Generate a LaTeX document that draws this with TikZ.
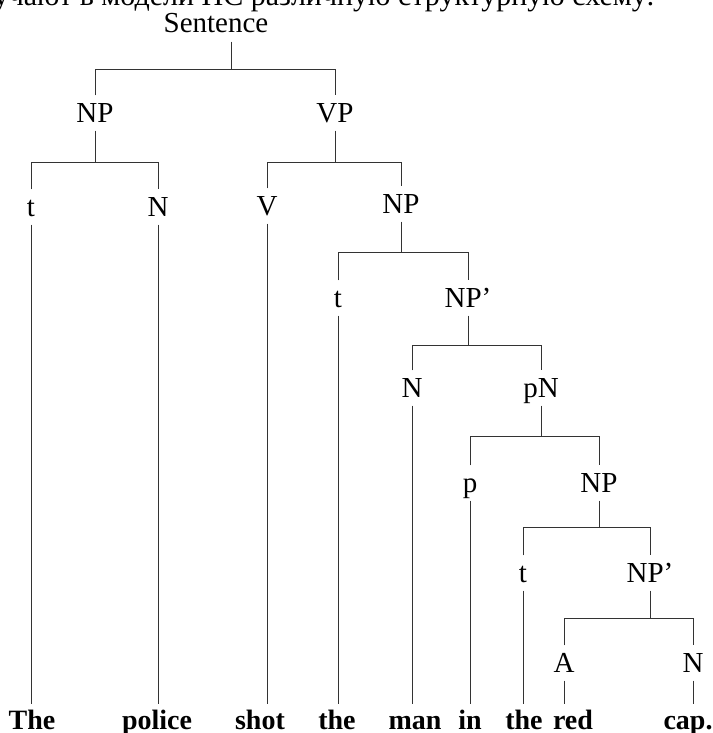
\documentclass[tikz,border=0pt]{standalone}
\usepackage{fontspec}
\setmainfont{Liberation Serif}
\tikzset{
  cat/.style={font=\fontsize{29}{29}\selectfont, text height=19pt, text depth=0pt,
    inner xsep=2pt, inner ysep=8pt},
  word/.style={font=\fontsize{28}{28}\selectfont\bfseries, anchor=base,
    inner sep=0pt, text height=25pt, text depth=0pt},
  branch/.style={draw=black!80, line width=0.9pt},
}

\begin{document}
\begin{tikzpicture}[x=1pt,y=-1pt]
  \useasboundingbox (0,0) rectangle (712,733);
  \clip (0,0) rectangle (712,733);

  % line of the page above the tree, cut by the scan
  \node [anchor=base east, inner sep=0pt, text depth=0pt,
    font=\fontsize{30}{30}\selectfont] (caption)
    at (655,6) {получают в модели НС различную структурную схему:};

  % heights of the bars
  \coordinate (bS) at (0,69);
  \coordinate (bNPa) at (0,162);
  \coordinate (bVP) at (0,162);
  \coordinate (bNPb) at (0,252);
  \coordinate (bNPPa) at (0,345);
  \coordinate (bpN) at (0,436);
  \coordinate (bNPc) at (0,527);
  \coordinate (bNPPb) at (0,618);

  \node [cat, inner ysep=1pt] (s) at (216,23) {Sentence};
  \node [cat] (npa) at (95,113) {NP};
  \node [cat] (vp) at (335,113) {VP};
  \node [cat] (ta) at (31,207) {t};
  \node [cat] (na) at (158,207) {N};
  \node [cat] (v) at (267,206) {V};
  \node [cat] (npb) at (401,204) {NP};
  \node [cat] (tb) at (338,298) {t};
  \node [cat] (nppa) at (468,298) {NP'};
  \node [cat] (nb) at (412,388) {N};
  \node [cat] (pn) at (541,388) {pN};
  \node [cat] (p) at (470,483) {p};
  \node [cat] (npc) at (599,483) {NP};
  \node [cat] (tc) at (523,573) {t};
  \node [cat] (nppb) at (650,573) {NP'};
  \node [cat] (a) at (564,663) {A};
  \node [cat] (nc) at (693,663) {N};

  \node [word] (w1) at (32,729) {The};
  \node [word] (w2) at (157,729) {police};
  \node [word] (w3) at (260,729) {shot};
  \node [word] (w4) at (337,729) {the};
  \node [word] (w5) at (415,729) {man};
  \node [word] (w6) at (470,729) {in};
  \node [word] (w7) at (524,729) {the};
  \node [word] (w8) at (573,729) {red};
  \node [word] (w9) at (688,729) {cap.};

  % forks
  \draw [branch] ([xshift=15pt]s.south) ++(0,8) -- ([xshift=15pt]s.south |- bS);
  \draw [branch] (npa.north) |- (vp.north |- bS) -- (vp.north);
  \draw [branch] (npa.south) -- (npa.south |- bNPa);
  \draw [branch] (ta.north) |- (na.north |- bNPa) -- (na.north);
  \draw [branch] (vp.south) -- (vp.south |- bVP);
  \draw [branch] (v.north) |- (npb.north |- bVP) -- (npb.north);
  \draw [branch] (npb.south) -- (npb.south |- bNPb);
  \draw [branch] (tb.north) |- (nppa.north |- bNPb) -- (nppa.north);
  \draw [branch] (nppa.south) -- (nppa.south |- bNPPa);
  \draw [branch] (nb.north) |- (pn.north |- bNPPa) -- (pn.north);
  \draw [branch] (pn.south) -- (pn.south |- bpN);
  \draw [branch] (p.north) |- (npc.north |- bpN) -- (npc.north);
  \draw [branch] (npc.south) -- (npc.south |- bNPc);
  \draw [branch] (tc.north) |- (nppb.north |- bNPc) -- (nppb.north);
  \draw [branch] (nppb.south) -- (nppb.south |- bNPPb);
  \draw [branch] (a.north) |- (nc.north |- bNPPb) -- (nc.north);

  % down to the words
  \draw [branch] (ta.south) -- (ta.south |- w1.north);
  \draw [branch] (na.south) -- (na.south |- w2.north);
  \draw [branch] (v.south) -- (v.south |- w3.north);
  \draw [branch] (tb.south) -- (tb.south |- w4.north);
  \draw [branch] (nb.south) -- (nb.south |- w5.north);
  \draw [branch] (p.south) -- (p.south |- w6.north);
  \draw [branch] (tc.south) -- (tc.south |- w7.north);
  \draw [branch] (a.south) -- (a.south |- w8.north);
  \draw [branch] (nc.south) -- (nc.south |- w9.north);
\end{tikzpicture}
\end{document}
